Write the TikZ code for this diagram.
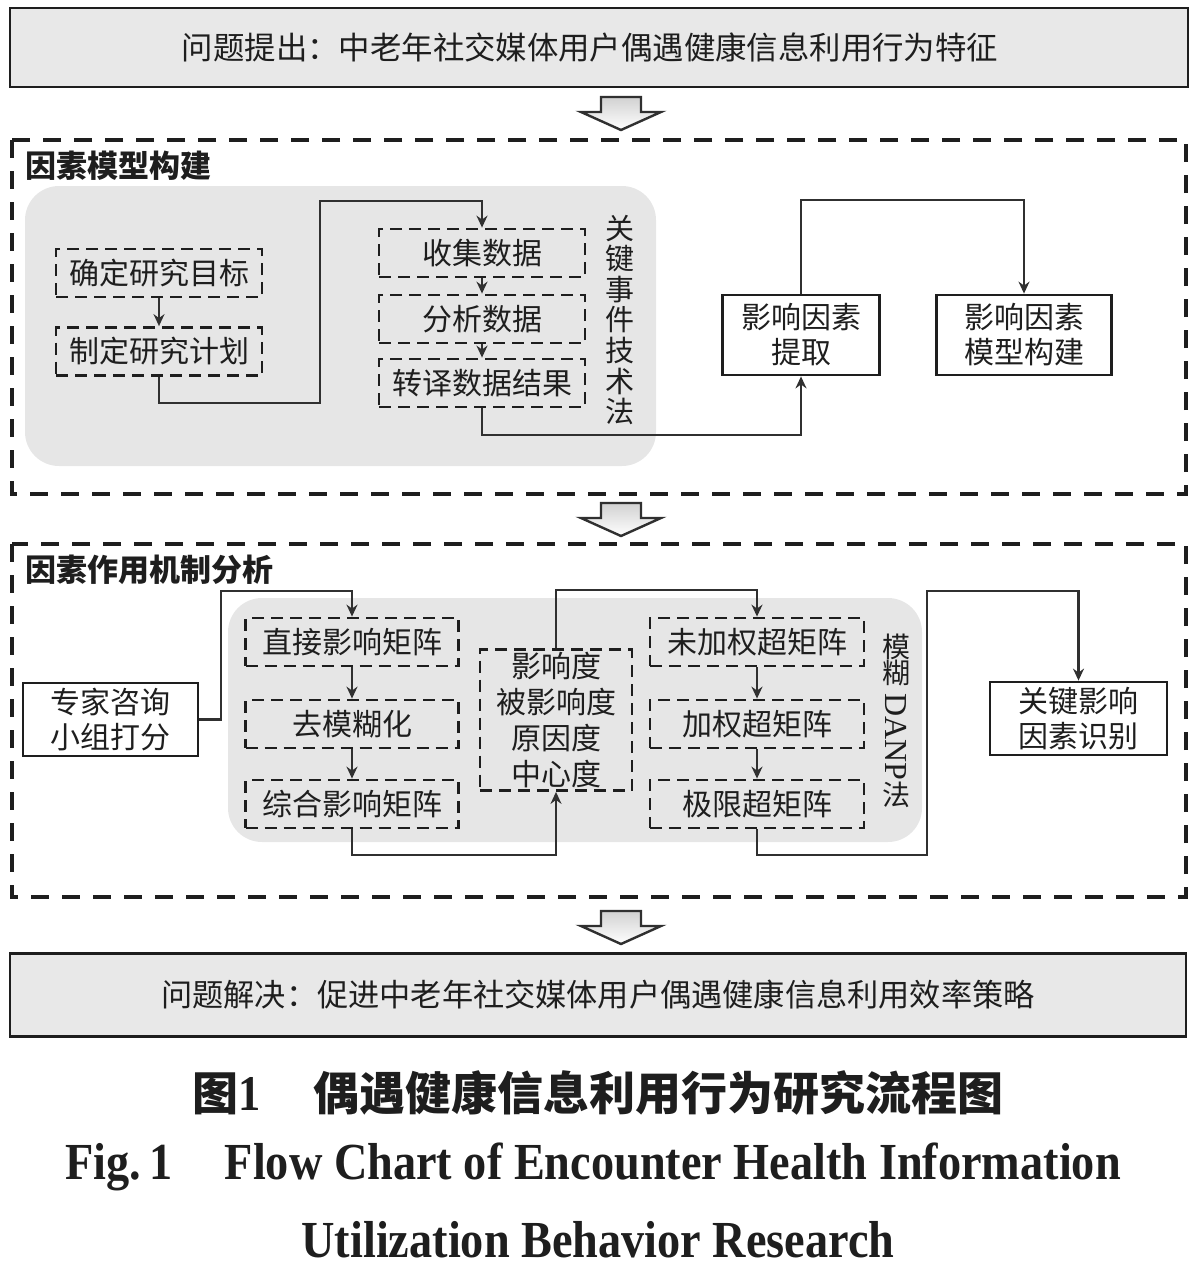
\documentclass[tikz,border=0pt]{standalone}
\usepackage{fontspec}
\usepackage{graphicx}
\usepackage{tikz}
\usetikzlibrary{arrows.meta,positioning,calc}
\setmainfont{Liberation Serif}
\newfontfamily\cjk{Noto Sans CJK SC}
\newfontfamily\capfont[FakeStretch=0.89]{Liberation Serif}
\definecolor{ink}{HTML}{1E1E1E}
\definecolor{wire}{HTML}{303030}
\definecolor{panel}{HTML}{E6E6E6}
\definecolor{band}{HTML}{E8E8E8}
\tikzset{
  bandbox/.style={draw=ink, line width=1.4pt, fill=band, minimum width=589pt, minimum height=39.5pt, inner sep=0pt, text=ink, font=\cjk\fontsize{15.7}{18}\selectfont},
  stage/.style={draw=ink, dash pattern=on 9pt off 6.5pt, line width=2pt},
  panelbg/.style={fill=panel, rounded corners=17pt},
  stepbox/.style={draw=ink, dash pattern=on 6pt off 3.5pt, line width=1.4pt, minimum width=103pt, minimum height=24pt, inner sep=0pt, text=ink, font=\cjk\fontsize{15}{18}\selectfont},
  solidbox/.style={draw=ink, line width=1.4pt, align=center, inner sep=0pt, text=ink, font=\cjk\fontsize{15}{17.5}\selectfont},
  stagename/.style={anchor=west, text=ink, font=\cjk\bfseries\fontsize{15.5}{18}\selectfont},
  method/.style={align=center, text=ink, font=\cjk\fontsize{14.5}{15.3}\selectfont},
  flow/.style={draw=wire, line width=1.2pt, -{Stealth[length=6pt,width=5.5pt,inset=2pt]}},
  hollow/.style={draw=wire, line width=1.2pt, top color=black!18, bottom color=white, line join=miter}
}

\begin{document}
\begin{tikzpicture}[x=0.5pt, y=-0.5pt]
  \useasboundingbox (0,0) rectangle (1200,1270);

  \node[bandbox] (ask) at (599,47.5) {\hspace*{-9pt}问题提出：中老年社交媒体用户偶遇健康信息利用行为特征};

  % hollow arrows between the stages
  \foreach \y in {97,503,911}
    \draw[hollow] (601,\y) -- (641,\y) -- (641,\y+15) -- (661,\y+15) -- (621,\y+33)
      -- (581,\y+15) -- (601,\y+15) -- cycle;

  % stage 1
  \draw[stage] (12,140) rectangle (1186,494);
  \node[stagename] (t1) at (18,166) {因素模型构建};
  \fill[panelbg] (25,186) rectangle (656,466);

  \node[stepbox] (goal) at (159,273) {确定研究目标};
  \node[stepbox] (plan) at (159,351.5) {制定研究计划};
  \node[stepbox] (collect) at (482,253) {收集数据};
  \node[stepbox] (analyse) at (482,319) {分析数据};
  \node[stepbox] (translate) at (482,383) {转译数据结果};
  \node[method] (cit) at (620,320) {关\\键\\事\\件\\技\\术\\法};

  \node[solidbox, minimum width=78.5pt, minimum height=40pt] (extract) at (801,335) {影响因素\\提取};
  \node[solidbox, minimum width=87.5pt, minimum height=40pt] (model) at (1024,335) {影响因素\\模型构建};

  \draw[flow] (goal) -- (plan);
  \draw[flow] (plan.south) |- (320,403) |- (482,201) -- (collect.north);
  \draw[flow] (collect) -- (analyse);
  \draw[flow] (analyse) -- (translate);
  \draw[flow] (translate.south) |- (801,435) -- (extract.south);
  \draw[flow] (extract.north) |- (1024,200) -- (model.north);

  % stage 2
  \draw[stage] (12,544) rectangle (1186,897);
  \node[stagename] (t2) at (18,570) {因素作用机制分析};
  \fill[panelbg] (228,598) rectangle (922,842);

  \node[solidbox, minimum width=87.5pt, minimum height=36.5pt] (expert) at (110.5,719.5) {专家咨询\\小组打分};
  \node[stepbox, minimum width=106.5pt] (direct) at (352,642) {直接影响矩阵};
  \node[stepbox, minimum width=106.5pt] (defuzz) at (352,724) {去模糊化};
  \node[stepbox, minimum width=106.5pt] (total) at (352,804) {综合影响矩阵};
  \node[stepbox, minimum width=76pt, minimum height=70.5pt, align=center,
    font=\cjk\fontsize{15}{18}\selectfont] (degree) at (556,720) {影响度\\被影响度\\原因度\\中心度};
  \node[stepbox, minimum width=107pt] (unweighted) at (757,642) {未加权超矩阵};
  \node[stepbox, minimum width=107pt] (weighted) at (757,724) {加权超矩阵};
  \node[stepbox, minimum width=107pt] (limit) at (757,804) {极限超矩阵};
  \node[method, font=\cjk\fontsize{14}{13}\selectfont] (danp) at (896,721)
    {模\\糊\\[-8pt]\rotatebox{-90}{\rmfamily\fontsize{16}{16}\selectfont DANP}\\法};
  \node[solidbox, minimum width=88.5pt, minimum height=36.5pt] (key) at (1078.5,718.5) {关键影响\\因素识别};

  \draw[flow] (expert.east) -| (221,591) -| (direct.north);
  \draw[flow] (direct) -- (defuzz);
  \draw[flow] (defuzz) -- (total);
  \draw[flow] (total.south) |- (556,855) -- (degree.south);
  \draw[flow] (degree.north) |- (757,590) -- (unweighted.north);
  \draw[flow] (unweighted) -- (weighted);
  \draw[flow] (weighted) -- (limit);
  \draw[flow] (limit.south) |- (927,855) |- (1078.5,591) -- (key.north);

  \node[bandbox, minimum width=588pt, minimum height=41.5pt, font=\cjk\fontsize{15.6}{18}\selectfont] (solve) at (598,995) {问题解决：促进中老年社交媒体用户偶遇健康信息利用效率策略};

  % caption
  \node[text=ink, font=\cjk\bfseries\fontsize{23}{26}\selectfont] (capzh) at (598,1093)
    {图{\capfont\fontsize{25}{26}\selectfont 1}\hspace{26pt}偶遇健康信息利用行为研究流程图};
  \node[text=ink, font=\capfont\bfseries\fontsize{26}{30}\selectfont] (capen) at (593,1167) {Fig.\,1\quad Flow Chart of Encounter Health Information};
  \node[text=ink, font=\capfont\bfseries\fontsize{26}{30}\selectfont] (capen2) at (598,1240) {Utilization Behavior Research};
\end{tikzpicture}
\end{document}
